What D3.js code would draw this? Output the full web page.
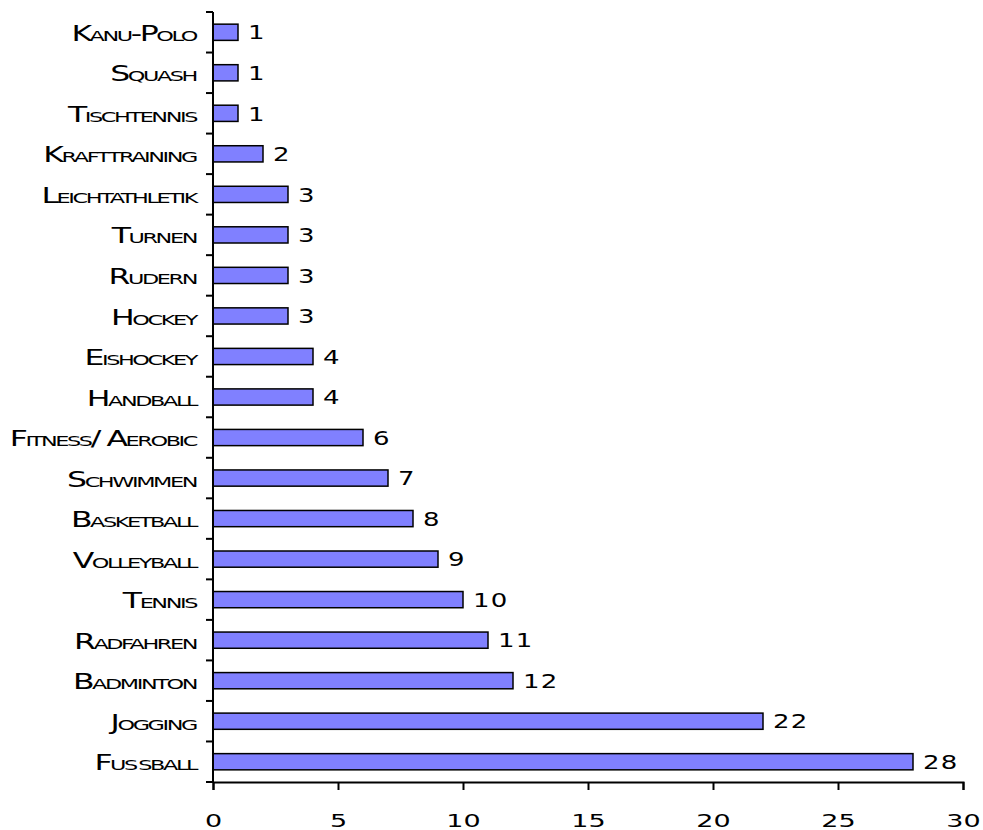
<!DOCTYPE html>
<html>
<head>
<meta charset="utf-8">
<script src="https://cdn.jsdelivr.net/npm/d3@7"></script>
<style>
  html, body { margin: 0; padding: 0; background: #ffffff; }
  svg { display: block; }
  .cat { font-family: "DejaVu Sans", sans-serif; font-variant: small-caps; font-size: 21px; letter-spacing: -1.6px; }
  .val { font-family: "DejaVu Sans", sans-serif; font-size: 20px; letter-spacing: 1px; }
  .tickl { font-family: "DejaVu Sans", sans-serif; font-size: 18px; }
</style>
</head>
<body>
<svg id="chart" width="983" height="830"></svg>
<script>
// Sports named, top to bottom
const categories = [
  "Kanu-Polo", "Squash", "Tischtennis", "Krafttraining", "Leichtathletik",
  "Turnen", "Rudern", "Hockey", "Eishockey", "Handball",
  "Fitness/ Aerobic", "Schwimmen", "Basketball", "Volleyball", "Tennis",
  "Radfahren", "Badminton", "Jogging", "Fußball"
];
const counts = [1, 1, 1, 2, 3, 3, 3, 3, 4, 4, 6, 7, 8, 9, 10, 11, 12, 22, 28];
const xTicks = [0, 5, 10, 15, 20, 25, 30];

const svg = d3.select("#chart");
const plot = { left: 213, right: 963, top: 12, bottom: 782 };
// the lettering is drawn extended horizontally
const catStretch = 1.5, valStretch = 1.3, tickStretch = 1.5;

const x = d3.scaleLinear().domain([0, 30]).range([plot.left, plot.right]);
const y = d3.scaleBand().domain(categories).range([plot.top, plot.bottom]).paddingInner(0.6).paddingOuter(0.3);

// bars
svg.append("g").selectAll("rect")
  .data(categories)
  .join("rect")
  .attr("x", x(0))
  .attr("y", d => y(d))
  .attr("width", (d, i) => x(counts[i]) - x(0))
  .attr("height", y.bandwidth())
  .attr("fill", "#8080ff")
  .attr("stroke", "#000")
  .attr("stroke-width", 1.5);

// value labels
svg.append("g").selectAll("text")
  .data(categories)
  .join("text")
  .attr("class", "val")
  .attr("transform", (d, i) => `translate(${x(counts[i]) + 10},${y(d) + y.bandwidth() / 2}) scale(${valStretch},1)`)
  .attr("dy", "0.36em")
  .text((d, i) => counts[i]);

// category axis: ticks sit between categories
const yAxis = svg.append("g");
yAxis.append("line").attr("x1", plot.left).attr("x2", plot.left).attr("y1", plot.top).attr("y2", plot.bottom)
  .attr("stroke", "#000").attr("stroke-width", 2);
const step = (plot.bottom - plot.top) / categories.length;
yAxis.selectAll("line.tk")
  .data(d3.range(categories.length + 1))
  .join("line")
  .attr("class", "tk")
  .attr("x1", plot.left - 7).attr("x2", plot.left)
  .attr("y1", i => plot.top + i * step).attr("y2", i => plot.top + i * step)
  .attr("stroke", "#000").attr("stroke-width", 2);
yAxis.selectAll("text")
  .data(categories)
  .join("text")
  .attr("class", "cat")
  .attr("text-anchor", "end")
  .attr("transform", d => `translate(${plot.left - 17},${y(d) + y.bandwidth() / 2 + 1}) scale(${catStretch},1)`)
  .attr("dy", "0.36em")
  .text(d => d);

// value axis
const xAxis = svg.append("g").attr("transform", `translate(0,${plot.bottom})`)
  .call(d3.axisBottom(x).tickValues(xTicks).tickSize(8).tickPadding(0).tickFormat(d3.format("d")));
xAxis.select(".domain").attr("stroke-width", 2);
xAxis.selectAll(".tick line").attr("stroke-width", 2);
xAxis.selectAll(".tick text")
  .attr("class", "tickl")
  .attr("fill", "#000")
  .attr("y", null).attr("dy", null)
  .attr("transform", `translate(0,45) scale(${tickStretch},1)`);
</script>
</body>
</html>
